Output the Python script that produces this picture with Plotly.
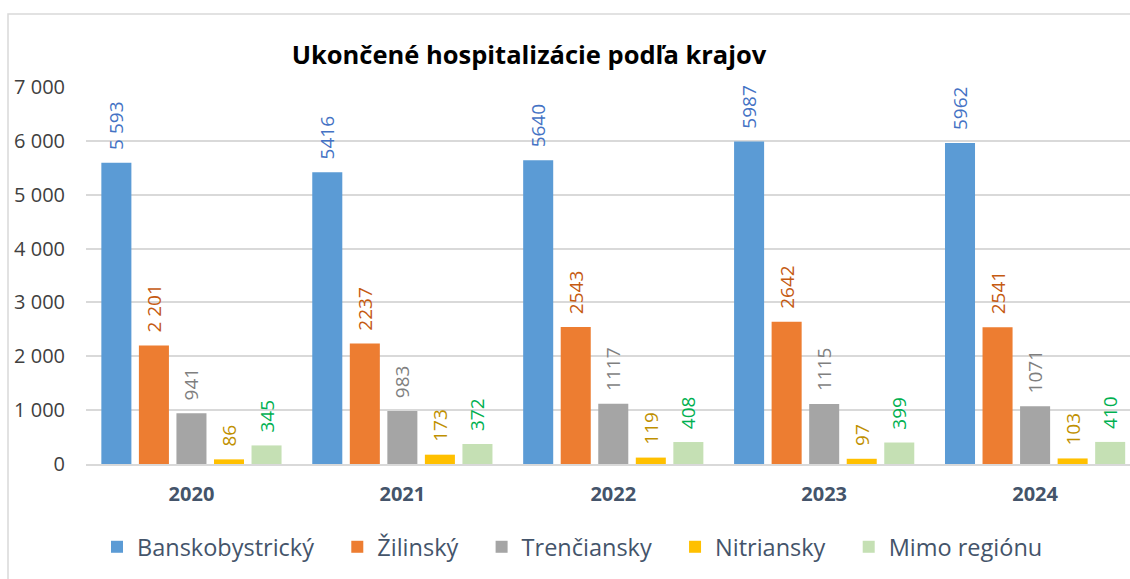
import plotly.graph_objects as go

years = ["2020", "2021", "2022", "2023", "2024"]
series_names = ["Banskobystrický", "Žilinský", "Trenčiansky", "Nitriansky", "Mimo regiónu"]
banskobystricky = [5593, 5416, 5640, 5987, 5962]
zilinsky = [2201, 2237, 2543, 2642, 2541]
trenciansky = [941, 983, 1117, 1115, 1071]
nitriansky = [86, 173, 119, 97, 103]
mimo = [345, 372, 408, 399, 410]
label_texts = [
    ["5 593", "5416", "5640", "5987", "5962"],
    ["2 201", "2237", "2543", "2642", "2541"],
    ["941", "983", "1117", "1115", "1071"],
    ["86", "173", "119", "97", "103"],
    ["345", "372", "408", "399", "410"],
]
y_ticks = [0, 1000, 2000, 3000, 4000, 5000, 6000, 7000]

values = [banskobystricky, zilinsky, trenciansky, nitriansky, mimo]
bar_colors = ["#5b9bd5", "#ed7d31", "#a5a5a5", "#ffc000", "#c5e0b4"]
label_colors = ["#4472c4", "#c55a11", "#7f7f7f", "#bf9000", "#00b050"]

FONT = "Open Sans"
PAD = "\u00a0\u00a0"
LEG_PAD = "\u00a0\u00a0\u00a0"

fig = go.Figure()
for name, vals, txt, bc, lc in zip(series_names, values, label_texts, bar_colors, label_colors):
    fig.add_trace(go.Bar(
        name=name + LEG_PAD, x=years, y=vals, text=[PAD + t for t in txt],
        textposition="outside", textangle=-90, cliponaxis=False,
        constraintext="none",
        textfont=dict(family=FONT, size=19, color=lc),
        marker=dict(color=bc, line=dict(width=0)),
        hoverinfo="x+y+name",
    ))

fig.update_layout(
    width=1130, height=579,
    margin=dict(l=86, r=0, t=87, b=115),
    paper_bgcolor="white", plot_bgcolor="white",
    barmode="group", bargap=0.11, bargroupgap=0.2,
    separators=", ",
    title=dict(text="<b>Ukončené hospitalizácie podľa krajov</b>",
               x=529 / 1130, xanchor="center", y=1 - 55 / 579, yanchor="middle",
               font=dict(family=FONT, size=25.5, color="#000000")),
    xaxis=dict(range=[-0.5, 4.45], showgrid=False, showline=True,
               linecolor="#d9d9d9", linewidth=1.5, ticks="",
               tickfont=dict(family=FONT, size=20, color="#44546a", weight="bold"),
               ticklabelstandoff=11),
    yaxis=dict(range=[0, 7000], tickvals=y_ticks, tickformat=",d",
               showgrid=True, gridcolor="#d9d9d9", gridwidth=1.5,
               zeroline=False, showline=False, ticks="",
               tickfont=dict(family=FONT, size=20, color="#404040"),
               ticklabelstandoff=20),
    legend=dict(orientation="h", x=(97 - 86) / 1044, xanchor="left",
                y=-(547 - 464) / 377, yanchor="middle",
                font=dict(family=FONT, size=23.5, color="#44546a"),
                itemwidth=30, traceorder="normal"),
    shapes=[dict(type="rect", xref="paper", yref="paper",
                 x0=(8 - 86) / 1044, x1=1.05, y0=-1, y1=(464 - 14) / 377,
                 line=dict(color="#d9d9d9", width=1.5), fillcolor="rgba(0,0,0,0)",
                 layer="below")],
)

fig.write_html("out.html", config={"displayModeBar": False},
               post_script="document.body.style.margin='0';")
